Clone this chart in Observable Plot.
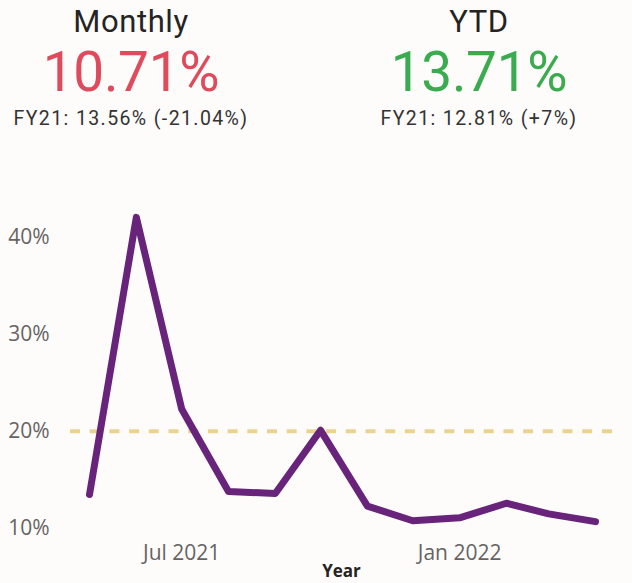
<!DOCTYPE html>
<html>
<head>
<meta charset="utf-8">
<script src="https://cdn.jsdelivr.net/npm/d3@7"></script>
<script src="https://cdn.jsdelivr.net/npm/@observablehq/plot@0.6"></script>
<style>
  html, body { margin: 0; padding: 0; background: #fdfcfb; width: 632px; height: 583px; overflow: hidden; }
  #wrap { position: relative; width: 632px; height: 583px; overflow: hidden; }
  .kpi { position: absolute; transform: translateX(-50%); text-align: center; white-space: nowrap; font-family: Roboto, sans-serif; line-height: 1; }
  .t { font-size: 31px; letter-spacing: 0.6px; color: #252423; }
  .v { font-size: 55px; letter-spacing: -0.3px; }
  .s { font-size: 19.5px; letter-spacing: 1.4px; color: #333333; }
  #chart { position: absolute; left: 0; top: 150px; }
</style>
</head>
<body>
<div id="wrap">
  <div id="kpis"></div>
  <div id="chart"></div>
</div>
<script>
// ---- data ----
const kpiTitles = ["Monthly", "YTD"];
const kpiValues = ["10.71%", "13.71%"];
const kpiComparisons = ["FY21: 13.56% (-21.04%)", "FY21: 12.81% (+7%)"];
const kpiColors = ["#dd4b5c", "#3aab4f"];

const months = ["2021-05-01", "2021-06-01", "2021-07-01", "2021-08-01", "2021-09-01", "2021-10-01",
                "2021-11-01", "2021-12-01", "2022-01-01", "2022-02-01", "2022-03-01", "2022-04-01"];
const rates = [13.5, 42.0, 22.3, 13.8, 13.6, 20.1, 12.3, 10.8, 11.1, 12.6, 11.5, 10.71];
const target = [20];
const yTicks = [10, 20, 30, 40];
const xTicks = ["2021-07-01", "2022-01-01"];
const xLabel = ["Year"];

// ---- KPI header ----
const centers = [131, 479];
const kpis = document.getElementById("kpis");
kpiTitles.forEach((t, i) => {
  const mk = (cls, top, txt, color) => {
    const d = document.createElement("div");
    d.className = "kpi " + cls;
    d.style.left = centers[i] + "px";
    d.style.top = top + "px";
    if (color) d.style.color = color;
    d.textContent = txt;
    kpis.appendChild(d);
  };
  mk("t", 6, t);
  mk("v", 45, kpiValues[i], kpiColors[i]);
  mk("s", 109, kpiComparisons[i]);
});

// ---- chart ----
const data = months.map((m, i) => ({date: new Date(m), rate: rates[i]}));
const chart = Plot.plot({
  width: 632,
  height: 433,
  marginLeft: 70,
  marginRight: 20,
  marginTop: 62,
  marginBottom: 55,
  style: {background: "transparent", fontFamily: "'Open Sans', sans-serif", fontSize: "21px", color: "#605e5c", overflow: "visible"},
  x: {type: "utc", domain: [new Date("2021-04-18T10:00Z"), new Date("2022-04-12T06:00Z")]},
  y: {domain: [10, 42.5]},
  marks: [
    Plot.ruleY(target, {stroke: "#ead38f", strokeWidth: 4, strokeDasharray: "10,9.7"}),
    Plot.lineY(data, {x: "date", y: "rate", stroke: "#68237a", strokeWidth: 7, strokeLinejoin: "round", strokeLinecap: "round"}),
    Plot.axisY(yTicks, {tickSize: 0, tickPadding: 21, tickFormat: d => d + "%", label: null, fill: "#666462"}),
    Plot.axisX(xTicks.map(d => new Date(d)), {tickSize: 0, tickPadding: 17, tickFormat: d3.utcFormat("%b %Y"), label: null, fill: "#666462"}),
    Plot.text(xLabel, {frameAnchor: "bottom", lineAnchor: "top", dy: 36, fontSize: 17, fontWeight: "bold", fill: "#252423", text: d => d})
  ]
});
document.getElementById("chart").appendChild(chart);
</script>
</body>
</html>
